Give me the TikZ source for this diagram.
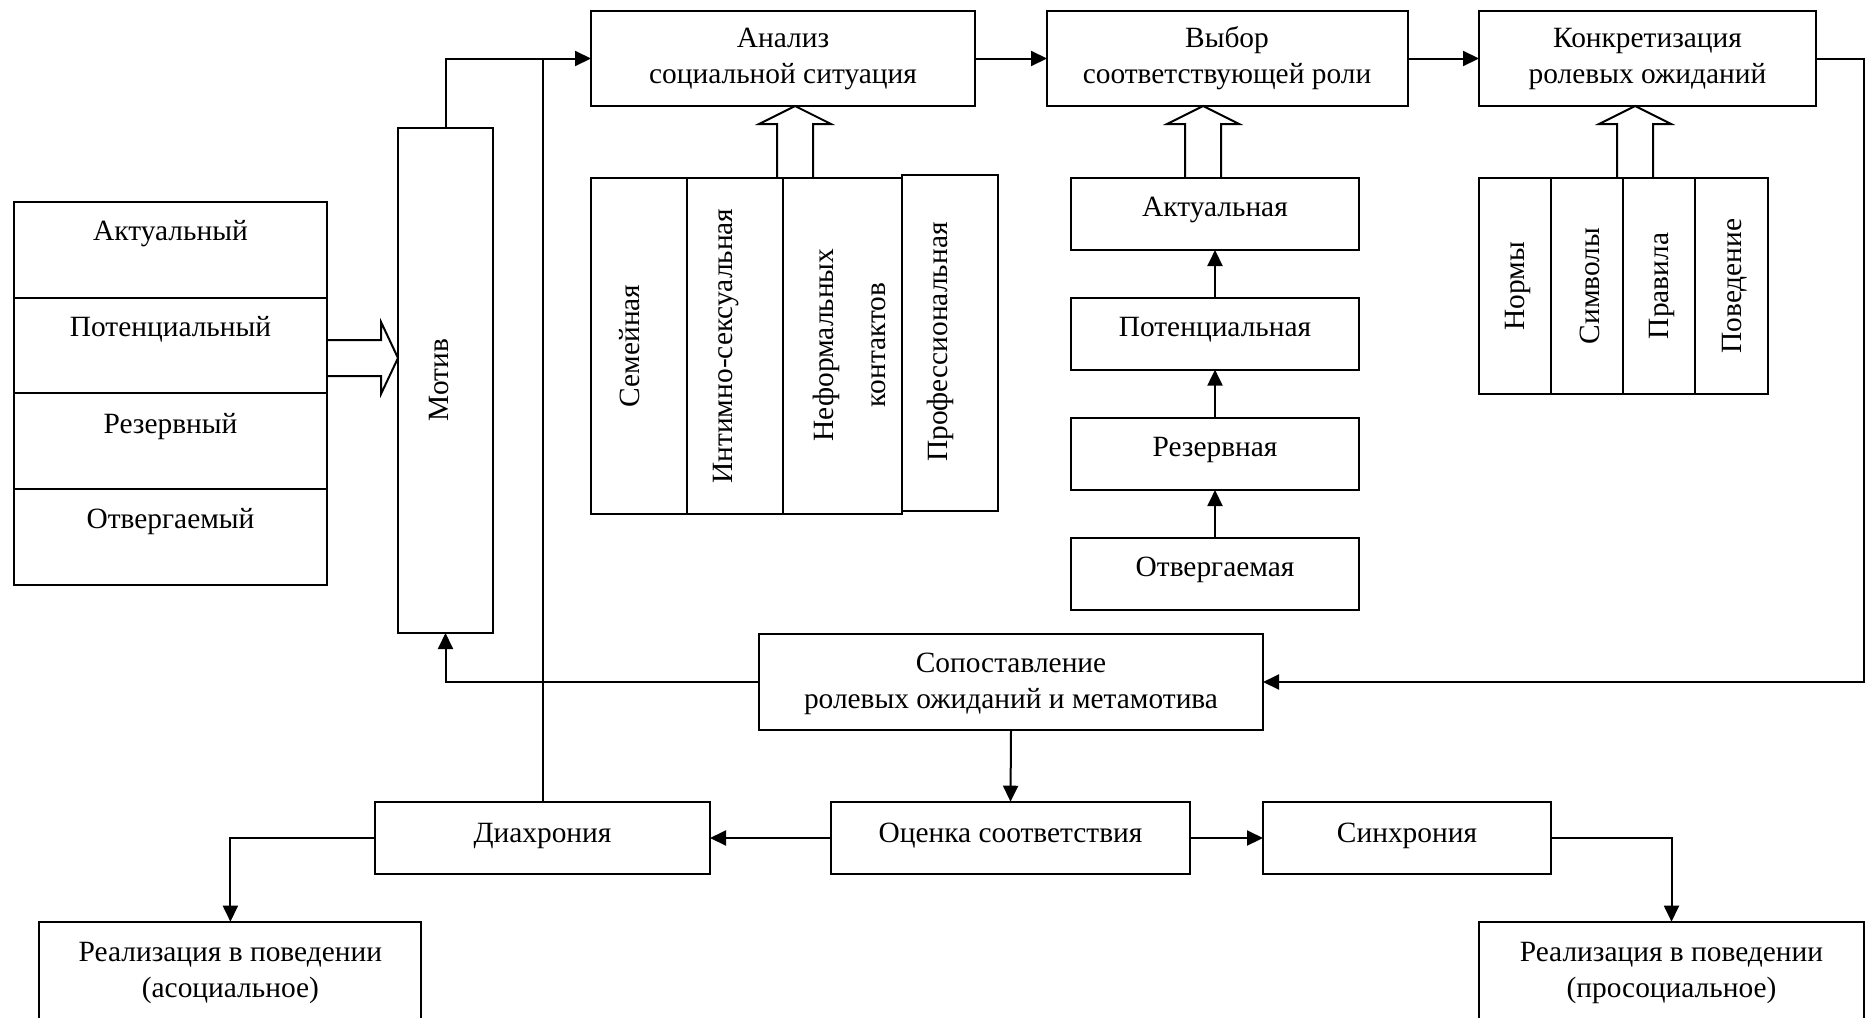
\documentclass[tikz,border=0pt]{standalone}
\usepackage{fontspec}
\setmainfont{Liberation Serif}
\usetikzlibrary{arrows.meta,calc}
\newcommand\bnode[6][]{\node[box,minimum width={(#4-#2)*0.5pt},minimum height={(#5-#3)*0.5pt},#1] (#6) at ({(#2+#4)/2},{(#3+#5)/2}) {};}
\newcommand\tnode[5][]{\node[txt,yshift=-1.8pt,#1] (#2) at (#3,#4) {#5};}
\newcommand\rnode[4]{\node[txt,rotate=90] (#1) at (#2,#3) {#4};}
\newcommand\hollowup[3]{\draw[hollowst] let \p1=(#2), \p2=(#3) in
 ({(#1-18)*0.5pt},\y1) -- ({(#1-18)*0.5pt},{\y2-18*0.5pt}) -- ({(#1-36)*0.5pt},{\y2-18*0.5pt}) -- ({#1*0.5pt},\y2) -- ({(#1+36)*0.5pt},{\y2-18*0.5pt}) -- ({(#1+18)*0.5pt},{\y2-18*0.5pt}) -- ({(#1+18)*0.5pt},\y1);}
\begin{document}
\begin{tikzpicture}[x=0.5pt,y=-0.5pt,
  box/.style={draw,line width=1pt,inner sep=0pt,outer sep=0pt},
  txt/.style={inner sep=0pt,align=center,font=\fontsize{14.7pt}{18pt}\selectfont},
  conn/.style={line width=1pt,-{Triangle[length=8pt,width=7.5pt]}},
  plain/.style={line width=1pt},
  hollowst/.style={line width=1pt,line join=miter}]
\useasboundingbox (0,0) rectangle (1872,1017);
\clip (0,0) rectangle (1872,1017);

% left stack
\bnode{14}{202}{327}{297.5}{aktL}   \tnode{aktLt}{170.5}{230}{Актуальный}
\bnode{14}{297.5}{327}{393}{potL}   \tnode{potLt}{170.5}{326}{Потенциальный}
\bnode{14}{393}{327}{488.5}{rezL}   \tnode{rezLt}{170.5}{422.6}{Резервный}
\bnode{14}{488.5}{327}{585}{otvL}   \tnode{otvLt}{170.5}{518}{Отвергаемый}

% motive
\bnode{398}{128}{493}{633}{motiv}   \rnode{motivt}{439}{380}{Мотив}

% top row
\bnode{591}{11}{975}{106}{anal}     \tnode{analt}{783}{55}{Анализ\\социальной ситуация}
\bnode{1047}{11}{1408}{106}{vybor}  \tnode{vybort}{1227}{55}{Выбор\\соответствующей роли}
\bnode{1479}{11}{1816}{106}{konkr}  \tnode{konkrt}{1647.5}{55}{Конкретизация\\ролевых ожиданий}

% analysis stack
\bnode{591}{178}{687}{513.5}{semA}  \rnode{semAt}{630}{346}{Семейная}
\bnode{687}{178}{783}{513.5}{intA}  \rnode{intAt}{726}{346}{Интимно-сексуальная}
\bnode{783}{178}{902}{513.5}{nefA}  \rnode{nefAt}{849}{345}{Неформальных\\[8pt]контактов}
\bnode{902}{174.5}{998}{510.5}{profA} \rnode{profAt}{940}{342}{Профессиональная}

% choice stack
\bnode{1071}{177.5}{1359}{250}{aktV}  \tnode{aktVt}{1215}{206.5}{Актуальная}
\bnode{1071}{297.5}{1359}{369.6}{potV} \tnode{potVt}{1215}{326}{Потенциальная}
\bnode{1071}{417.9}{1359}{490}{rezV}  \tnode{rezVt}{1215}{446.5}{Резервная}
\bnode{1071}{537.5}{1359}{610}{otvV}  \tnode{otvVt}{1215}{566}{Отвергаемая}

% expectations stack
\bnode{1479}{177.5}{1551}{394}{normK} \rnode{normKt}{1518}{286}{Нормы}
\bnode{1551}{177.5}{1623}{394}{simK}  \rnode{simKt}{1590}{286}{Символы}
\bnode{1623}{177.5}{1695}{394}{pravK} \rnode{pravKt}{1662}{286}{Правила}
\bnode{1695}{177.5}{1768}{394}{povK}  \rnode{povKt}{1734.5}{286}{Поведение}

% comparison and evaluation
\bnode{759}{634}{1263}{730}{sopost}  \tnode{sopostt}{1011}{680}{Сопоставление\\ролевых ожиданий и метамотива}
\bnode{831}{801.7}{1190}{874.3}{ots}  \tnode{otst}{1010.5}{832}{Оценка соответствия}
\bnode{375}{801.7}{710}{874.3}{diach} \tnode{diacht}{542.5}{832}{Диахрония}
\bnode{1263}{801.7}{1551}{874.3}{synch} \tnode{syncht}{1407}{832}{Синхрония}
\bnode{39.4}{921.7}{421.4}{1040}{realL}  \tnode{realLt}{230.4}{969}{Реализация в поведении\\(асоциальное)}
\bnode{1479}{921.7}{1864}{1040}{realR}   \tnode{realRt}{1671.5}{969}{Реализация в поведении\\(просоциальное)}

% connectors
\draw[conn] (motiv.north) |- (anal.west);
\draw[plain] (diach.north) -- (diach.north |- anal.west);
\draw[conn] (anal.east) -- (vybor.west);
\draw[conn] (vybor.east) -- (konkr.west);
\coordinate (rk) at (1864,682);
\draw[conn] (konkr.east) -| (rk) -- (sopost.east);
\draw[conn] (sopost.west) -| (motiv.south);
\draw[conn] (sopost.south) -- (ots.north);
\draw[conn] (ots.west) -- (diach.east);
\draw[conn] (ots.east) -- (synch.west);
\draw[conn] (diach.west) -| (realL.north);
\draw[conn] (synch.east) -| (realR.north);
\draw[conn] (otvV.north) -- (rezV.south);
\draw[conn] (rezV.north) -- (potV.south);
\draw[conn] (potV.north) -- (aktV.south);

% hollow arrows
\hollowup{795}{intA.north}{anal.south}
\hollowup{1203}{aktV.north}{vybor.south}
\hollowup{1635}{pravK.north}{konkr.south}
\draw[hollowst] let \p1=(potL.east), \p2=(motiv.west) in
  (\x1,{-340*0.5pt}) -- ({\x2-17*0.5pt},{-340*0.5pt}) -- ({\x2-17*0.5pt},{-322*0.5pt}) -- (\x2,{-358*0.5pt})
  -- ({\x2-17*0.5pt},{-394*0.5pt}) -- ({\x2-17*0.5pt},{-376*0.5pt}) -- (\x1,{-376*0.5pt});
\end{tikzpicture}
\end{document}
